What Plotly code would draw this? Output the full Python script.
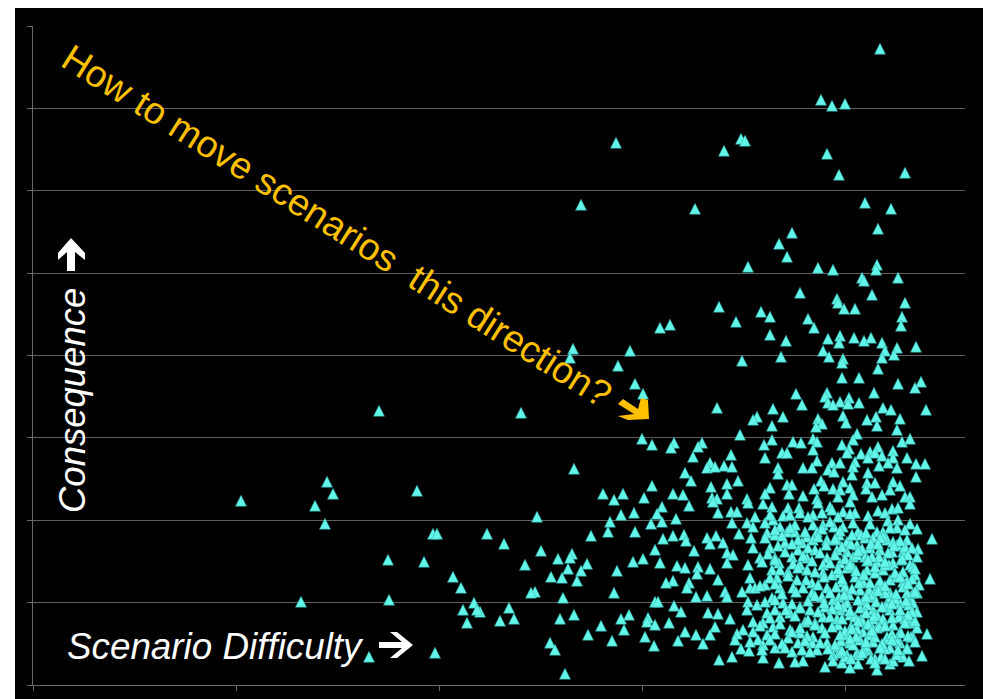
import plotly.graph_objects as go

# Scenario difficulty / consequence scores (arbitrary units)
far_x = [847,788,799,812,583,691,708,712,794,806,
         872,548,662,832,858,845,759,746,754,715,
         785,800,844,843,829,831,865,839,767,804,
         627,637,540,537,597,585,602,610,346,488]
far_y = [636,585,579,581,542,534,546,544,531,510,
         512,480,476,482,476,456,452,441,428,418,
         417,415,420,415,407,404,407,390,392,386,
         357,360,336,327,334,319,301,291,274,272]

upper_x = [686,728,737,703,775,781,805,811,822,872,
           869,868,737,753,795,807,806,821,831,838,
           849,864,883,790,852,861,709,748,796,810,
           809,849,845,809,826,865,888,882,763,794,
           792,841,816,807,795,800,815,826,769,684,
           740,850,858,893,724,720,750,810,785,834,
           843,867,789,783,739,813,844,864,707,739,
           824,820,780,784,760,768,731,869,877,809,
           780,669,816,845,860,814,828,837,749,754,
           698,732,842,849,835,874,860,677,784,691,
           699,674,682,745,770,779,799,807,822,820,
           846,855,864,883,892,795,801,745,819,835,
           883,705,678,694,788,754,759,810,834,842,
           860,867,737,791,781,800,817,833,857,807,
           694,732,756,770,805,820,839,849,872,877,
           784,714,679,684]
upper_y = [378,373,368,363,366,357,382,376,376,382,
           368,359,350,344,346,349,342,347,344,347,
           342,337,338,334,334,330,324,328,328,326,
           322,327,316,307,307,301,303,297,291,292,
           288,292,287,283,282,280,281,282,280,277,
           276,277,275,275,268,265,268,269,266,265,
           268,266,261,258,259,262,259,255,250,245,
           251,245,246,243,243,242,240,243,246,240,
           235,242,236,238,234,232,231,233,232,232,
           230,227,232,229,227,227,227,222,224,219,
           218,217,218,217,217,217,222,222,223,218,
           219,222,217,221,221,215,213,211,210,212,
           208,204,198,201,204,200,200,203,202,202,
           203,199,197,199,196,196,197,196,195,195,
           191,191,191,189,188,190,188,190,188,188,
           186,186,187,186]

dense_x = [680,715,730,739,755,766,785,797,810,822,
           817,845,859,865,877,685,698,704,722,740,
           750,757,767,780,789,799,805,699,714,720,
           747,780,790,801,810,820,865,877,884,825,
           844,850,864,734,706,742,754,762,784,674,
           683,718,774,780,794,804,814,832,840,854,
           874,899,677,690,752,769,824,864,885,720,
           737,765,782,804,814,837,847,859,870,694,
           700,727,742,759,774,794,820,832,884,694,
           715,746,767,790,807,844,860,877,677,739,
           755,774,790,814,834,850,870,717,744,764,
           799,822,882,685,897,732,779,810,830,857,
           870,717,722,747,760,794,844,692,709,779,
           814,827,674,694,739,789,857,877,800,837,
           715,724,750,767,814,854,867,880,714,742,
           777,792,827,675,685,807,840,857,734,757,
           884,697,747,790,817,867,720,730,772,782,
           830,850,877,682,740,805,710,757,789,844,
           867,884,894,677,704,720,734,767,780,814,
           830,854,880,670,702,725,755,794,827,840,
           867,730,765,779,742,805,817,857,874,708,
           716,784,759,769,835,800,814,824,699,730,
           686,770,762,746,800,842,889,809,825,857,
           792,817,844]
dense_y = [183,182,181,178,177,177,182,178,173,172,
           183,174,176,177,181,172,173,173,168,165,
           169,170,172,170,172,175,168,162,162,158,
           158,160,160,158,158,162,165,161,156,153,
           153,153,157,152,151,150,153,153,153,147,
           149,147,148,145,145,145,143,147,147,145,
           145,146,141,142,142,142,140,140,136,137,
           137,135,135,135,133,137,135,133,133,132,
           130,127,127,128,127,127,128,128,128,122,
           120,122,120,120,122,123,122,120,116,115,
           113,115,112,117,115,115,113,107,107,105,
           110,108,110,105,106,100,102,103,103,105,
           103,97,97,97,97,97,98,93,93,92,
           93,95,89,88,87,88,92,88,85,88,
           83,80,82,78,82,82,82,82,75,75,
           75,78,77,72,71,75,75,75,72,72,
           73,66,68,68,70,70,63,62,63,62,
           63,65,62,58,58,60,55,55,57,57,
           53,57,51,50,51,53,50,52,48,50,
           53,48,48,41,45,45,47,42,45,43,
           42,40,42,42,37,38,42,37,37,36,
           34,35,33,35,35,30,30,32,28,27,
           25,24,23,22,24,26,29,22,21,21,
           18,17,15]

packed_x = [806,818,828,838,850,860,872,812,824,834,
            846,856,868,880,806,820,830,842,852,864,
            874,886,812,826,836,848,858,870,880,806,
            816,830,840,852,862,874,884,810,822,834,
            844,854,866,876,804,818,828,838,850,860,
            872,882,812,824,836,846,856,868,878,808,
            820,832,842,852,864,874,812,826,838,848,
            860,870,806,818,830,842,852,864,876,840]
packed_y = [150,141,150,141,148,143,138,126,130,124,
            128,120,125,118,112,118,110,112,120,108,
            104,100,98,102,95,100,88,98,92,88,
            90,84,90,92,86,92,92,78,68,80,
            70,78,68,80,66,58,66,60,66,60,
            66,64,54,56,50,58,46,52,48,44,
            40,38,48,36,44,36,28,30,26,28,
            24,28,32,26,34,22,26,30,24,66]

# Points hidden inside the solid part of the cloud, estimated band by band
crowd_x = [737,775,817,835,852,
           732,762,797,837,855,
           742,757,772,789,807,833,857,872,
           732,749,765,785,802,819,847,867,
           745,759,775,793,809,829,845,861,879,
           735,752,770,787,802,825,839,855,875,
           729,742,760,779,797,817,835,852,869,
           747,765,782,805,823,842,862,882,
           737,755,773,791,809,831,847,867,879,
           727,742,770,785,803,819,837,852,875,
           749,763,782,797,811,833,845,863,882,
           732,742,759,775,791,805,825,843,859,873,
           753,767,785,799,817,833,849,867,879,
           737,762,775,797,809,825,841,859,875,
           727,747,767,782,799,819,835,852,872,
           742,759,774,792,807,823,839,859,875,
           717,737,749,772,787,802,817,833,849,859,882,
           729,752,777,795,809,829,847,865]
crowd_y = [170,168,171,169,172,
           162,160,163,161,164,
           155,157,153,156,154,152,157,155,
           147,149,145,148,146,150,147,144,
           139,141,137,140,138,136,141,139,137,
           131,133,129,132,130,134,128,132,130,
           123,125,121,124,122,120,125,123,126,
           115,117,113,116,114,118,112,116,
           107,109,105,108,106,110,104,108,106,
           99,101,97,100,98,96,102,99,101,
           91,93,89,92,90,88,94,91,93,
           83,85,81,84,82,80,85,83,81,84,
           75,77,73,76,74,72,78,75,73,
           67,69,65,68,66,64,69,67,70,
           59,61,57,60,58,56,61,59,62,
           51,53,49,52,50,48,54,51,49,
           43,45,41,44,42,40,46,43,41,45,43,
           35,37,33,36,34,32,37,35]

mid_x = [609,619,641,638,665,660,541,652,658,619,
         570,590,581,611,640,650,656,629,601,588,
         624,504,643,577,629,618,454,575,602,558,
         640,651,653,630,471,508,622,661,539,537,
         525,610,600,627,492,554,644,652,665,535,
         548,584,664,518,529,544,640,633,656,654,
         581,502,498,530,663,622,625,476,447,641,
         648,541,467,481,527,596,588,615,614,622,
         636,568,591,652,663,555,612,645,579,517,
         522,621,532]
mid_y = [246,240,242,237,238,228,216,212,204,199,
         191,191,185,187,191,190,179,178,172,170,
         171,168,166,163,163,161,151,153,153,149,
         149,150,144,146,141,134,135,134,131,127,
         126,126,123,122,120,121,119,117,118,116,
         114,114,111,108,107,104,104,102,102,97,
         92,93,92,87,88,83,83,77,73,79,
         73,70,64,66,66,70,66,67,63,60,
         62,59,55,53,50,50,48,44,44,42,
         35,39,11]

left_x = [208,294,300,282,292,384,400,404,355,391,
          420,428,268,356,430,441,444,434,336,402]
left_y = [184,203,191,179,161,194,151,151,125,123,
          108,97,83,85,75,82,75,62,28,32]

x_ticks = [0, 203, 406, 609, 812]
y_ticks = [0, 82.4, 164.8, 247.2, 329.6, 412, 494.4, 576.8, 659]
note_text = "How to move scenarios\u00a0\u00a0this direction?"
x_label = "Scenario Difficulty"
y_label = "Consequence"

difficulty = far_x + upper_x + dense_x + packed_x + crowd_x + mid_x + left_x
consequence = far_y + upper_y + dense_y + packed_y + crowd_y + mid_y + left_y

W, H = 983, 699
L, T, R, B = 33, 26, 965, 685
GREY = "#6a6a6a"

def px(x):
    return (x - L) / (R - L)

def py(y):
    return (B - y) / (B - T)

def arrow(points, color):
    d = "M" + " L".join(f"{px(a):.5f},{py(b):.5f}" for a, b in points) + " Z"
    return dict(type="path", xref="paper", yref="paper", path=d,
                fillcolor=color, line=dict(width=0), layer="above")

up_arrow = [(71, 238), (85, 253), (85, 260), (75, 252), (75, 271), (67, 271), (67, 252), (58, 260), (58, 253)]
right_arrow = [(379, 642), (402, 642), (390, 632), (397, 632), (413, 645), (397, 658), (390, 658), (402, 648), (379, 648)]
amber_arrow = [(623, 399), (638, 409), (641, 398), (648, 400), (649, 419), (628, 420), (618, 416), (634, 414), (618, 404)]

fig = go.Figure(go.Scatter(
    x=difficulty, y=consequence, mode="markers", cliponaxis=False,
    marker=dict(symbol="triangle-up", size=10, color="#62F6E8",
                line=dict(color="#2FA3A0", width=0.5)),
    hoverinfo="skip"))

axis_common = dict(showticklabels=False, ticks="outside", ticklen=5, tickcolor=GREY,
                   zeroline=False, showline=True, linecolor=GREY, linewidth=1, automargin=False)

fig.update_layout(
    template="none",
    width=W, height=H, autosize=False,
    margin=dict(l=L, r=W - R, t=T, b=H - B, pad=0),
    paper_bgcolor="white", plot_bgcolor="black", showlegend=False,
    font=dict(family="Liberation Sans, Arial, sans-serif"),
    xaxis=dict(range=[0, 932], tickvals=x_ticks, showgrid=False, **axis_common),
    yaxis=dict(range=[0, 659], tickvals=y_ticks, showgrid=True, gridcolor="#5f5f5f", gridwidth=1,
               **axis_common),
    shapes=[
        dict(type="rect", xref="paper", yref="paper", x0=px(15), x1=px(W), y0=py(H), y1=py(8),
             fillcolor="black", line=dict(width=0), layer="below"),
        arrow(up_arrow, "white"), arrow(right_arrow, "white"), arrow(amber_arrow, "#FFC000"),
    ],
    annotations=[
        dict(text=note_text, xref="paper", yref="paper", x=px(337), y=py(226), xanchor="center",
             yanchor="middle", textangle=32.4, showarrow=False,
             font=dict(size=37.5, color="#FFC000", family="Liberation Sans")),
        dict(text=f"<i>{x_label}</i>", xref="paper", yref="paper", x=px(215), y=py(646),
             xanchor="center", yanchor="middle", showarrow=False,
             font=dict(size=36.8, color="white", family="Liberation Sans")),
        dict(text=f"<i>{y_label}</i>", xref="paper", yref="paper", x=px(72), y=py(401),
             xanchor="center", yanchor="middle", textangle=-90, showarrow=False,
             font=dict(size=36.5, color="white", family="Liberation Sans")),
    ],
)

# Plotly's triangle-up is flatter than the reference's triangles: make them as tall as wide.
page_js = """
document.documentElement.style.overflow='hidden';
document.body.style.margin='0';
document.querySelectorAll('.scatterlayer path.point').forEach(function(p){
  p.setAttribute('d','M-5.5,5.2H5.5L0,-5.8Z');
});
"""
fig.write_html("out.html", config=dict(displayModeBar=False), post_script=page_js)
